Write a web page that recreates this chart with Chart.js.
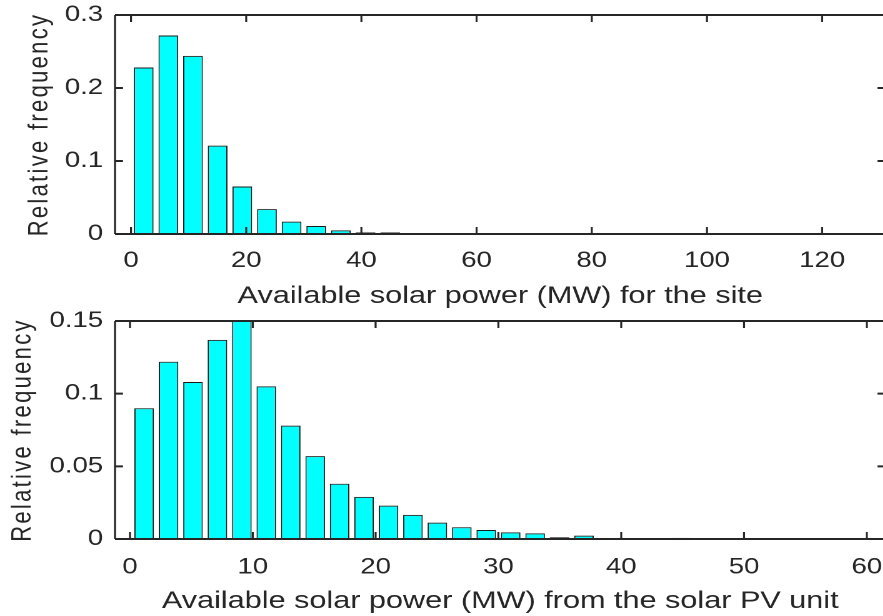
<!DOCTYPE html>
<html>
<head>
<meta charset="utf-8">
<script src="https://cdn.jsdelivr.net/npm/chart.js@4.4.1/dist/chart.umd.min.js"></script>
<style>
  html, body { margin: 0; padding: 0; background: #fff; overflow: hidden; }
  body { width: 883px; height: 616px; position: relative; }
  .plot { position: absolute; left: 0; top: 0; width: 712px; height: 616px;
          transform: scaleX(1.25); transform-origin: 0 0; }
</style>
</head>
<body>
<div class="plot"><canvas id="topChart" width="712" height="616"></canvas></div>
<div class="plot"><canvas id="bottomChart" width="712" height="616"></canvas></div>
<script>
// site histogram (MW bin centres and relative frequency)
const siteCenters = [2.20, 6.48, 10.76, 15.04, 19.32, 23.60, 27.88, 32.16, 36.44, 40.72,
  45.00, 49.28, 53.56, 57.84, 62.12, 66.40, 70.68, 74.96, 79.24, 83.52,
  87.80, 92.08, 96.36, 100.64, 104.92, 109.20, 113.48, 117.76, 122.04, 126.32];
const siteFreq = [0.228, 0.272, 0.244, 0.121, 0.065, 0.034, 0.017, 0.011, 0.005, 0.002,
  0.002, 0.001, 0.0008, 0, 0, 0, 0, 0, 0, 0,
  0, 0, 0, 0, 0, 0, 0, 0, 0, 0];
const siteXTicks = [0, 20, 40, 60, 80, 100, 120];
const siteYTicks = [0, 0.1, 0.2, 0.3];

// PV unit histogram
const pvCenters = [1.15, 3.14, 5.13, 7.12, 9.11, 11.10, 13.09, 15.08, 17.07, 19.06,
  21.05, 23.04, 25.03, 27.02, 29.01, 31.00, 32.99, 34.98, 36.97, 38.96,
  40.95, 42.94, 44.93, 46.92, 48.91, 50.90, 52.89, 54.88, 56.87, 58.86];
const pvFreq = [0.090, 0.122, 0.108, 0.137, 0.150, 0.105, 0.078, 0.057, 0.038, 0.029,
  0.023, 0.0166, 0.0113, 0.0081, 0.0062, 0.0046, 0.0039, 0.0012, 0.0023, 0.0007,
  0.0004, 0.0004, 0.0008, 0.0004, 0.0004, 0.0001, 0.0001, 0, 0, 0.0004];
const pvXTicks = [0, 10, 20, 30, 40, 50, 60];
const pvYTicks = [0, 0.05, 0.1, 0.15];

const FONT = "'Liberation Sans', Arial, sans-serif";
const INK = '#262626';

// box + inward tick marks, MATLAB style
const boxPlugin = {
  id: 'box',
  beforeDraw(chart) { chart.ctx.letterSpacing = '2.3px'; },    // y title only
  beforeDatasetsDraw(chart) { chart.ctx.letterSpacing = '0px'; },
  afterDatasetsDraw(chart) {
    const {ctx, chartArea: a, scales: {x, y}} = chart;
    ctx.save();
    ctx.strokeStyle = INK;
    ctx.lineWidth = 1.6;
    x.ticks.forEach(t => {
      const px = x.getPixelForValue(t.value);
      ctx.beginPath();
      ctx.moveTo(px, a.bottom); ctx.lineTo(px, a.bottom - 7);
      ctx.moveTo(px, a.top); ctx.lineTo(px, a.top + 7);
      ctx.stroke();
    });
    ctx.lineWidth = 2;
    y.ticks.forEach(t => {
      const py = y.getPixelForValue(t.value);
      ctx.beginPath();
      ctx.moveTo(a.left, py); ctx.lineTo(a.left + 6.4, py);
      ctx.moveTo(a.right, py); ctx.lineTo(a.right - 6.4, py);
      ctx.stroke();
    });
    ctx.beginPath();
    ctx.moveTo(a.left, a.top); ctx.lineTo(a.right, a.top);
    ctx.moveTo(a.left, a.bottom); ctx.lineTo(a.right, a.bottom);
    ctx.stroke();
    ctx.lineWidth = 1.6;
    ctx.beginPath();
    ctx.moveTo(a.left, a.top); ctx.lineTo(a.left, a.bottom);
    ctx.moveTo(a.right, a.top); ctx.lineTo(a.right, a.bottom);
    ctx.stroke();
    ctx.restore();
  }
};

function makeHist(id, centers, freq, xTicks, yTicks, xr, yMax, xTitle, pad, xH, tickPad, titlePad, yTitlePad) {
  return new Chart(document.getElementById(id), {
    type: 'bar',
    data: {
      datasets: [{
        data: centers.map((c, i) => ({x: c, y: freq[i]})),
        backgroundColor: '#00FFFF',
        borderColor: '#1a1a1a',
        borderWidth: 1,
        barPercentage: 0.8,
        categoryPercentage: 1.0
      }]
    },
    options: {
      responsive: false,
      devicePixelRatio: 2,
      animation: false,
      layout: {padding: pad},
      plugins: {legend: {display: false}, tooltip: {enabled: false}},
      scales: {
        x: {
          type: 'linear', offset: false, min: xr[0], max: xr[1],
          afterBuildTicks: s => { s.ticks = xTicks.map(v => ({value: v})); },
          afterFit: s => { s.height = xH; s.paddingLeft = 0; s.paddingRight = 0; },
          grid: {display: false, drawTicks: false, z: 1},
          border: {display: false},
          ticks: {z: 1, color: INK, padding: tickPad, autoSkip: false, maxRotation: 0,
                  font: {family: FONT, size: 22}, callback: v => String(v)},
          title: {display: true, text: xTitle, color: INK,
                  font: {family: FONT, size: 24.5}, padding: {top: 0, bottom: titlePad}}
        },
        y: {
          min: 0, max: yMax,
          afterBuildTicks: s => { s.ticks = yTicks.map(v => ({value: v})); },
          afterFit: s => { s.width = 92; s.paddingTop = 0; s.paddingBottom = 0; },
          grid: {display: false, drawTicks: false},
          border: {display: false},
          ticks: {z: 1, color: INK, padding: 9.5,
                  font: {family: FONT, size: 22}, callback: v => String(v)},
          title: {display: true, text: 'Relative frequency', color: INK,
                  font: {family: FONT, size: 22}, padding: {top: yTitlePad, bottom: 0}}
        }
      }
    },
    plugins: [boxPlugin]
  });
}

makeHist('topChart', siteCenters, siteFreq, siteXTicks, siteYTicks, [-2.78, 131.0], 0.3,
  'Available solar power (MW) for the site',
  {top: 15, right: 3.6, bottom: 302, left: 0}, 80, 13.6, 3.3, 18.8);

makeHist('bottomChart', pvCenters, pvFreq, pvXTicks, pvYTicks, [-1.22, 61.52], 0.15,
  'Available solar power (MW) from the solar PV unit',
  {top: 321, right: 3.6, bottom: 0, left: 0}, 77, 15.1, 0.3, 5.2);
</script>
</body>
</html>
